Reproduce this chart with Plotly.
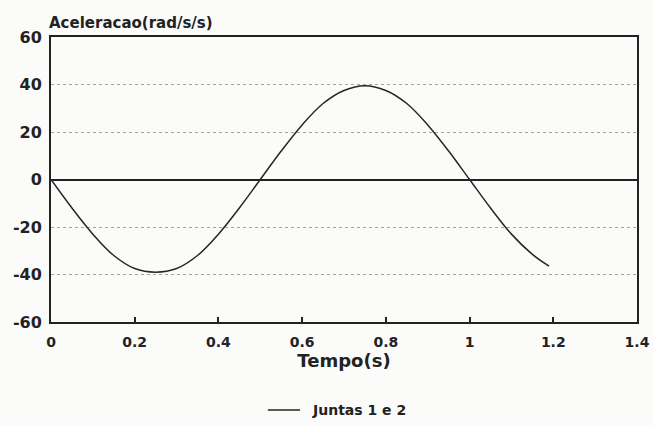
import plotly.graph_objects as go

tempo = [0, 0.05, 0.1, 0.15, 0.2, 0.25, 0.3, 0.35, 0.4, 0.45, 0.5, 0.55, 0.6,
         0.65, 0.7, 0.75, 0.8, 0.85, 0.9, 0.95, 1.0, 1.05, 1.1, 1.15, 1.19]
aceleracao = [0, -12, -23, -32, -37.5, -39, -37.5, -32, -23, -12, 0, 12, 23,
              32, 37.5, 39.5, 37.5, 32, 23, 12, 0, -12, -23, -31.5, -36.5]
x_ticks = [0, 0.2, 0.4, 0.6, 0.8, 1, 1.2, 1.4]
x_ticklabels = ["0", "0.2", "0.4", "0.6", "0.8", "1", "1.2", "1.4"]
y_ticks = [-60, -40, -20, 0, 20, 40, 60]
y_ticklabels = ["-60", "-40", "-20", "0", "20", "40", "60"]
series_name = "Juntas 1 e 2"

font_family = "DejaVu Sans, Liberation Sans, Arial, sans-serif"
line_color = "#262626"

fig = go.Figure()
fig.add_trace(go.Scatter(
    x=tempo, y=aceleracao, mode="lines", name=series_name, showlegend=False,
    line=dict(color=line_color, width=1.5, shape="spline"),
))

# legend drawn below the axis (line sample + label), in paper coordinates
leg_y = -0.309
fig.add_shape(type="line", xref="paper", yref="paper",
              x0=0.370, x1=0.425, y0=leg_y, y1=leg_y,
              line=dict(color=line_color, width=1.5))

fig.update_layout(
    width=653, height=426,
    margin=dict(l=51, r=16, t=37, b=104, autoexpand=False),
    paper_bgcolor="#fbfbfa", plot_bgcolor="#fbfbfa",
    font=dict(family=font_family, color="#222222"),
    showlegend=False,
    xaxis=dict(
        range=[0, 1.4], tickvals=x_ticks, ticktext=x_ticklabels,
        ticks="inside", ticklen=5, tickwidth=1.5, tickcolor="#222",
        showline=True, linecolor="#222", linewidth=2, mirror=True,
        showgrid=False, zeroline=False,
        tickfont=dict(size=14, weight="bold"), ticklabelstandoff=6,
        title=dict(text="Tempo(s)", font=dict(size=18, weight="bold"), standoff=6),
    ),
    yaxis=dict(
        range=[-60, 60], tickvals=y_ticks, ticktext=y_ticklabels,
        ticks="", showline=True, linecolor="#222", linewidth=2, mirror=True,
        showgrid=True, gridcolor="#b89a9a", griddash="dot", gridwidth=1,
        zeroline=True, zerolinecolor="#222", zerolinewidth=1.8,
        tickfont=dict(size=16, weight="bold"), ticklabelstandoff=4,
    ),
    annotations=[
        dict(text="Aceleracao(rad/s/s)", x=0, xref="paper", xanchor="left",
             y=1, yref="paper", yanchor="bottom", yshift=3, xshift=-4,
             showarrow=False,
             font=dict(size=15, weight="bold", color="#222222")),
        dict(text=series_name, x=0.442, xref="paper", xanchor="left",
             y=leg_y, yref="paper", yanchor="middle", showarrow=False,
             font=dict(size=14, weight="bold", color="#222222")),
    ],
)

fig.write_html("out.html")
